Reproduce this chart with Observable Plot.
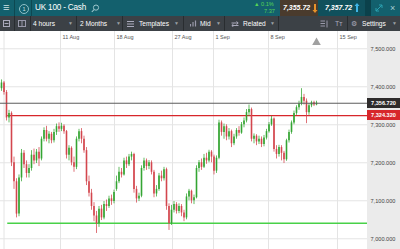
<!DOCTYPE html>
<html><head><meta charset="utf-8">
<script src="https://cdn.jsdelivr.net/npm/d3@7"></script>
<script src="https://cdn.jsdelivr.net/npm/@observablehq/plot@0.6"></script>
<style>
body{margin:0;width:400px;height:249px;overflow:hidden;font-family:"Liberation Sans",Arial,sans-serif;background:#fff}
#hdr{position:relative;height:16px;background:#13606d;color:#fff;overflow:hidden}
#tb{position:relative;height:15px;background:#3c4146;color:#fff;font-size:6.6px;overflow:hidden}
.a{position:absolute;white-space:nowrap;top:0}
.sep{position:absolute;top:0;width:1px;height:100%;background:rgba(0,0,0,0.25)}
.dd{color:#9aa0a4;font-size:5px}
#chart{position:relative;height:218px;background:linear-gradient(to right,#fff 367px,#ebebeb 367px)}
.tag{position:absolute;left:367px;width:33px;height:10px;line-height:10px;font-size:5.6px;color:#fff;text-align:center;font-weight:bold}
</style></head><body>
<div id="hdr">
  <div class="a" style="left:3px;line-height:15px;font-size:11px;color:#cfe3e6">≡</div>
  <div class="sep" style="left:14px"></div>
  <div class="a" style="left:19px;top:3.5px;width:8px;height:8px;border:1px solid #8fc0c8;border-radius:50%;font-size:5.5px;line-height:8px;text-align:center;color:#cfe3e6">1</div>
  <div class="sep" style="left:31px"></div>
  <div class="a" style="left:35px;line-height:16px;font-size:8.2px;letter-spacing:-0.2px">UK 100 - Cash</div>
  <svg class="a" style="left:91px;top:4px" width="9" height="9"><circle cx="5" cy="3.6" r="2.6" fill="none" stroke="#9cc6cc" stroke-width="1"/><line x1="3" y1="5.6" x2="0.8" y2="8" stroke="#9cc6cc" stroke-width="1.1"/></svg>
  <div class="a" style="left:254px;top:1px;font-size:5.6px;line-height:7px;color:#56d456">▲ 0.1%</div>
  <div class="a" style="left:264px;top:8px;font-size:5.6px;line-height:7px;color:#56d456">7.37</div>
  <div class="a" style="left:280px;width:38px;height:16px;background:#4a3b2d"></div>
  <div class="a" style="left:283px;line-height:16px;font-size:7px;font-weight:bold;font-style:italic">7,355.72</div>
  <svg class="a" style="left:312px;top:4px" width="6" height="9"><path d="M2 0 V6 H0.5 L3 9 L5.5 6 H4 V0 Z" fill="#e8922a"/></svg>
  <div class="a" style="left:318px;width:47px;height:16px;background:#10505c"></div>
  <div class="a" style="left:325px;line-height:16px;font-size:7px;font-weight:bold;font-style:italic">7,357.72</div>
  <svg class="a" style="left:354px;top:3px" width="6" height="9"><path d="M2 9 V3 H0.5 L3 0 L5.5 3 H4 V9 Z" fill="#3fb4e6"/></svg>
  <div class="a" style="left:365px;width:6px;height:16px;background:#0b414b"></div>
  <svg class="a" style="left:375px;top:4px" width="8" height="8"><path d="M1 7 L7 1 M4 1 H7 V4 M1 4 V7 H4" stroke="#2aa0b0" fill="none" stroke-width="1"/></svg>
  <div class="a" style="left:390px;line-height:16px;font-size:9px;color:#a9cfd4">×</div>
</div>
<div id="tb">
  <svg class="a" style="left:3px;top:4px" width="7" height="7"><rect x="0.5" y="0.5" width="6" height="6" fill="none" stroke="#aab" /><line x1="1.5" y1="3.5" x2="5.5" y2="3.5" stroke="#aab"/></svg>
  <div class="sep" style="left:14px;background:rgba(0,0,0,0.3)"></div>
  <svg class="a" style="left:18px;top:4px" width="8" height="7"><rect x="0.5" y="0.5" width="7" height="6" fill="none" stroke="#99a"/><line x1="4" y1="0.5" x2="4" y2="6.5" stroke="#99a"/></svg>
  <div class="sep" style="left:30px;background:rgba(0,0,0,0.3)"></div>
  <div class="a" style="left:33px;line-height:15px">4 hours</div>
  <div class="a dd" style="left:68px;line-height:15px">▼</div>
  <div class="sep" style="left:76px;background:rgba(0,0,0,0.3)"></div>
  <div class="a" style="left:80px;line-height:15px">2 Months</div>
  <div class="a dd" style="left:116px;line-height:15px">▼</div>
  <div class="sep" style="left:122px;background:rgba(0,0,0,0.3)"></div>
  <svg class="a" style="left:127px;top:4.5px" width="7" height="6"><path d="M0 0.5 H7 M0 3 H7 M0 5.5 H7" stroke="#aab"/></svg>
  <div class="a" style="left:139px;line-height:15px">Templates</div>
  <div class="a dd" style="left:174px;line-height:15px">▼</div>
  <div class="sep" style="left:183px;background:rgba(0,0,0,0.3)"></div>
  <svg class="a" style="left:190px;top:4px" width="7" height="7"><path d="M0.5 6.5 V4 M3 6.5 V2 M5.5 6.5 V0.5" stroke="#99a" stroke-width="1.2"/></svg>
  <div class="a" style="left:200px;line-height:15px">Mid</div>
  <div class="a dd" style="left:216px;line-height:15px">▼</div>
  <div class="sep" style="left:224px;background:rgba(0,0,0,0.3)"></div>
  <svg class="a" style="left:231px;top:4.5px" width="8" height="6"><path d="M0.5 2 H7 M5.5 0.5 L7.2 2 L5.5 3.5 M7.5 4.5 H1 M2.5 3 L0.8 4.5 L2.5 6" stroke="#aab" fill="none"/></svg>
  <div class="a" style="left:243px;line-height:15px">Related</div>
  <div class="a dd" style="left:270px;line-height:15px">▼</div>
  <div class="sep" style="left:278px;background:rgba(0,0,0,0.3)"></div>
  <svg class="a" style="left:320px;top:4px" width="8" height="8"><path d="M0.5 1 H5 M0.5 3.5 H5 M0.5 6 H5 M7 0.5 V7.5" stroke="#99a"/></svg>
  <div class="a" style="left:335px;line-height:15px;color:#aab;font-size:7px">Tт</div>
  <div class="sep" style="left:347px;background:rgba(0,0,0,0.3)"></div>
  <div class="a" style="left:351px;line-height:15px;color:#aab;font-size:7px">⚙</div>
  <div class="a" style="left:362px;line-height:15px">Settings</div>
  <div class="a dd" style="left:392px;line-height:15px">▼</div>
</div>
<div id="chart"></div>
<script>
const opens = [7395,7410,7385,7318,7330,7200,7150,7065,7160,7225,7195,7172,7185,7220,7205,7228,7210,7262,7285,7262,7275,7258,7280,7295,7288,7296,7282,7220,7238,7200,7188,7262,7282,7262,7232,7150,7120,7085,7060,7040,7078,7055,7090,7085,7105,7098,7130,7150,7175,7168,7205,7195,7215,7222,7130,7105,7112,7185,7205,7190,7200,7175,7118,7130,7165,7158,7182,7085,7040,7075,7090,7072,7085,7068,7055,7110,7125,7100,7108,7185,7200,7188,7212,7205,7228,7215,7178,7212,7305,7280,7295,7268,7282,7250,7268,7285,7278,7300,7310,7332,7340,7262,7270,7255,7262,7248,7265,7282,7300,7315,7235,7222,7240,7225,7208,7258,7280,7305,7330,7345,7355,7372,7362,7332,7350,7358,7352];
const highs = [7418,7414,7390,7338,7334,7215,7158,7168,7235,7232,7205,7195,7232,7236,7235,7240,7268,7292,7296,7282,7280,7288,7302,7305,7304,7300,7285,7245,7242,7215,7268,7288,7290,7270,7240,7165,7130,7095,7072,7085,7088,7098,7102,7112,7115,7128,7165,7188,7185,7212,7215,7222,7228,7225,7138,7120,7192,7212,7210,7206,7205,7180,7140,7172,7178,7188,7186,7092,7088,7098,7095,7092,7090,7075,7118,7130,7128,7115,7192,7206,7210,7222,7225,7233,7232,7220,7218,7312,7310,7302,7300,7290,7286,7275,7290,7295,7306,7318,7340,7352,7344,7276,7274,7270,7268,7272,7288,7306,7322,7318,7245,7246,7245,7230,7262,7286,7310,7336,7350,7362,7395,7380,7368,7356,7362,7362,7362];
const lows = [7388,7378,7310,7305,7190,7130,7055,7058,7150,7185,7160,7160,7178,7195,7198,7190,7205,7255,7255,7250,7250,7252,7272,7280,7282,7275,7210,7205,7192,7175,7182,7255,7250,7225,7140,7110,7075,7045,7014,7030,7048,7050,7072,7080,7088,7092,7125,7145,7160,7165,7185,7190,7205,7120,7094,7098,7108,7178,7180,7182,7168,7108,7110,7125,7150,7152,7075,7022,7035,7068,7065,7066,7058,7045,7050,7100,7092,7090,7105,7175,7180,7185,7196,7200,7200,7168,7172,7208,7270,7262,7258,7260,7240,7245,7262,7270,7275,7292,7305,7322,7255,7250,7245,7248,7240,7242,7260,7278,7296,7228,7210,7215,7205,7198,7204,7252,7275,7300,7325,7338,7350,7352,7303,7325,7345,7348,7350];
const closes = [7410,7385,7318,7330,7200,7150,7065,7160,7225,7195,7172,7185,7220,7205,7228,7210,7262,7285,7262,7275,7258,7280,7295,7288,7296,7282,7220,7238,7200,7188,7262,7282,7262,7232,7150,7120,7085,7060,7040,7078,7055,7090,7085,7105,7098,7122,7150,7175,7168,7205,7195,7215,7222,7130,7105,7112,7185,7205,7190,7200,7175,7118,7130,7165,7158,7182,7085,7040,7075,7090,7072,7085,7068,7055,7110,7125,7100,7108,7185,7200,7188,7212,7205,7228,7215,7178,7212,7305,7280,7295,7268,7282,7250,7268,7285,7278,7300,7310,7332,7340,7262,7270,7255,7262,7248,7265,7282,7300,7315,7235,7222,7240,7225,7208,7258,7280,7305,7330,7345,7355,7372,7362,7332,7350,7358,7352,7357];
const tickIdx = [1, 23.6, 45.2, 68.4, 84.8, 106.8, 134.4];
const tickLabels = ["", "11 Aug", "18 Aug", "27 Aug", "1 Sep", "8 Sep", "15 Sep"];
const yTicks = [7000, 7100, 7200, 7300, 7400, 7500];
const lastPrice = 7356.72;
const redLevel = 7324.32;
const greenLevel = 7041;
const lineStart = 2.5;

const GREEN = "#34a533", RED = "#d3464e";
const candles = closes.map((c, i) => ({i, o: opens[i], h: highs[i], l: lows[i], c}));
const col = d => d.c >= d.o ? GREEN : RED;
const xDomain = [-0.4, 146.4];
const fmt = d3.format(",.3f");

const plot = Plot.plot({
  width: 400, height: 218,
  marginLeft: 0, marginRight: 33, marginTop: 0, marginBottom: 0,
  style: {background: "transparent", fontFamily: "Liberation Sans, Arial, sans-serif"},
  x: {domain: xDomain, axis: null},
  y: {domain: [6971.8, 7545.5], axis: null},
  marks: [
    Plot.ruleY(yTicks, {stroke: "#e4e4e4"}),
    Plot.ruleX(tickIdx, {stroke: "#e4e4e4"}),
    Plot.text(tickIdx, {x: d => d, text: (d, i) => tickLabels[i], frameAnchor: "top", dy: 3.5, dx: 2, textAnchor: "start", fontSize: 5.5, fill: "#555"}),
    Plot.ruleY([greenLevel], {x1: lineStart, x2: xDomain[1], stroke: "#48d148", strokeWidth: 1.6}),
    Plot.ruleY([redLevel], {x1: lineStart, x2: xDomain[1], stroke: "#d7262b", strokeWidth: 1.3}),
    Plot.ruleX(candles, {x: "i", y1: "l", y2: "h", stroke: col, strokeWidth: 0.9, strokeOpacity: 0.85}),
    Plot.ruleX(candles, {x: "i", y1: "o", y2: "c", stroke: col, strokeWidth: 1.6}),
    Plot.ruleY([lastPrice], {stroke: "#5c5c5c", strokeWidth: 1}),
    Plot.axisY({anchor: "right", ticks: yTicks, tickFormat: fmt, tickSize: 0, tickPadding: 3, fontSize: 5.6, color: "#444", textAnchor: "start"}),
    Plot.dot([candles.length - 1], {x: d => d, frameAnchor: "top", dy: 11, symbol: "triangle", fill: "#a0a0a0", r: 3.2})
  ]
});
const chart = document.getElementById("chart");
chart.appendChild(plot);
const ys = plot.scale("y");
function tag(v, bg) {
  const t = document.createElement("div");
  t.className = "tag";
  t.style.background = bg;
  t.style.top = (ys.apply(v) - 5) + "px";
  t.textContent = fmt(v);
  chart.appendChild(t);
}
tag(lastPrice, "#2e2b2b");
tag(redLevel, "#d7262b");
</script>
</body></html>
